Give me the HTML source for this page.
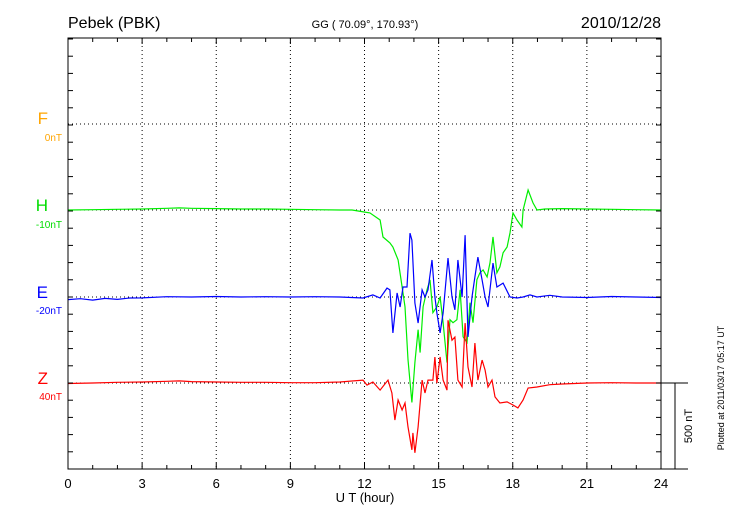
<!DOCTYPE html>
<html><head><meta charset="utf-8"><style>
body{margin:0;background:#fff}
svg{display:block;font-family:"Liberation Sans",sans-serif}
</style></head><body>
<svg id="c" width="730" height="520" viewBox="0 0 730 520">
<text x="68" y="28" font-size="16">Pebek (PBK)</text>
<text x="365" y="28" font-size="11" text-anchor="middle">GG ( 70.09°, 170.93°)</text>
<text x="661" y="28" font-size="16" text-anchor="end">2010/12/28</text>
<g id="grid"></g>
<g id="series"></g>
<rect x="68" y="38" width="593" height="431" fill="none" stroke="#000" stroke-width="1"/>
<g id="ticks"></g>
<text x="48" y="124" font-size="17" fill="#FFA500" text-anchor="end">F</text>
<text x="62" y="141" font-size="10" fill="#FFA500" text-anchor="end">0nT</text>
<text x="48" y="211" font-size="17" fill="#00dd00" text-anchor="end">H</text>
<text x="62" y="228" font-size="10" fill="#00dd00" text-anchor="end">-10nT</text>
<text x="48" y="298" font-size="17" fill="#0000ff" text-anchor="end">E</text>
<text x="62" y="314" font-size="10" fill="#0000ff" text-anchor="end">-20nT</text>
<text x="48" y="384" font-size="17" fill="#ff0000" text-anchor="end">Z</text>
<text x="62" y="400" font-size="10" fill="#ff0000" text-anchor="end">40nT</text>
<text x="365" y="502" font-size="13" text-anchor="middle">U T (hour)</text>
<line x1="661" y1="383" x2="688" y2="383" stroke="#000"/>
<line x1="661" y1="469" x2="688" y2="469" stroke="#000"/>
<line x1="675" y1="383" x2="675" y2="469" stroke="#000"/>
<text transform="translate(692,426) rotate(-90)" font-size="11" text-anchor="middle">500 nT</text>
<text transform="translate(724,388) rotate(-90)" font-size="9" text-anchor="middle">Plotted at 2011/03/17 05:17 UT</text>
</svg>
<script>
const xTicks=[0,3,6,9,12,15,18,21,24];
const hTime=[0,1,2,3,4,4.5,5,6,7,8,9,10,11,11.5,12.02,12.22,12.63,12.75,13.03,13.15,13.23,13.36,13.52,13.64,13.76,13.92,14.04,14.17,14.25,14.37,14.53,14.65,14.77,14.93,15.06,15.18,15.34,15.46,15.58,15.74,15.87,15.99,16.15,16.27,16.39,16.55,16.67,16.8,16.96,17.08,17.2,17.36,17.48,17.61,17.77,17.89,18.01,18.17,18.37,18.42,18.62,18.82,18.98,19.3,20,21,22,23,24];
const hVal=[0,2,4,6,10,12,10,8,6,6,4,2,0,0,-12,-17,-58,-157,-191,-215,-244,-290,-447,-563,-870,-1119,-887,-696,-829,-563,-464,-406,-597,-563,-505,-655,-887,-638,-655,-638,-464,-737,-771,-539,-655,-406,-365,-348,-389,-307,-157,-365,-331,-249,-215,-133,-17,-58,-99,0,116,41,0,6,8,6,4,2,0];
const eTime=[0,0.5,1,1.5,2,2.5,3,4,5,6,7,8,9,10,11,11.94,12.34,12.63,12.91,13.03,13.15,13.32,13.44,13.56,13.72,13.84,13.92,14.04,14.17,14.33,14.45,14.57,14.73,14.85,14.93,15.06,15.18,15.38,15.54,15.66,15.78,15.95,16.07,16.19,16.35,16.47,16.59,16.76,16.88,17.0,17.2,17.36,17.61,17.89,18.17,18.42,18.7,18.98,19.5,20,21,22,23,24];
const eVal=[-15,-10,-18,-8,-14,-6,-5,2,0,3,0,2,0,2,0,-6,12,-6,52,41,-209,23,-58,58,58,371,331,-35,-151,41,0,41,215,0,-93,-209,-93,226,0,-75,215,0,360,-232,0,116,232,99,0,-58,197,58,81,0,-6,0,12,0,10,0,-3,3,0,-3];
const zTime=[0,1,2,3,4,4.5,5,6,7,8,9,10,11,11.94,12.1,12.34,12.63,12.95,13.11,13.23,13.36,13.52,13.64,13.76,13.92,13.96,14.04,14.17,14.33,14.45,14.57,14.77,14.85,14.93,15.06,15.18,15.34,15.38,15.54,15.66,15.78,15.95,16.07,16.19,16.35,16.47,16.59,16.76,16.88,17.0,17.16,17.28,17.48,17.77,18.01,18.21,18.42,18.62,18.98,19.5,20,21,22,23,24];
const zVal=[-3,0,4,6,10,12,8,6,4,4,2,2,6,17,-12,6,-41,17,-58,-215,-99,-157,-116,-255,-389,-290,-406,-255,17,-58,17,17,151,0,151,17,-41,365,249,267,17,-23,348,93,-23,232,17,133,75,-23,17,-81,-116,-110,-128,-145,-99,-29,-23,-10,-6,0,2,0,0];
const X0=68,X1=661,PX=(X1-X0)/24,NT=86/500;
const xs=h=>X0+h*PX;
const ys=(base,v)=>base-v*NT;
const NS='http://www.w3.org/2000/svg';
function mk(tag,attrs,parent){const e=document.createElementNS(NS,tag);for(const k in attrs)e.setAttribute(k,attrs[k]);parent.appendChild(e);return e;}
const grid=document.getElementById('grid'),ticks=document.getElementById('ticks'),ser=document.getElementById('series');
[124,210,297,383].forEach(y=>{const l=mk('line',{x1:X0,x2:X1,y1:y,y2:y,stroke:'#000','stroke-dasharray':'1,3','stroke-width':1},grid);

});
xTicks.forEach(h=>{const x=xs(h);
if(h>0&&h<24){const l=mk('line',{x1:x,x2:x,y1:38,y2:469,stroke:'#000','stroke-dasharray':'1,3'},grid);

}
const t=mk('text',{x:x,y:488,'font-size':13,'text-anchor':'middle'},ticks);t.textContent=h;

});
for(let h=0;h<=24;h++){const x=xs(h),len=h%3===0?6:4;
const a=mk('line',{x1:x,x2:x,y1:38,y2:38+len,stroke:'#000'},ticks);


const b=mk('line',{x1:x,x2:x,y1:469,y2:469-len,stroke:'#000'},ticks);

}
for(let y=469;y>=38;y-=17.2){
const a=mk('line',{x1:X0,x2:X0+5,y1:y,y2:y,stroke:'#000'},ticks);


const b=mk('line',{x1:X1-5,x2:X1,y1:y,y2:y,stroke:'#000'},ticks);

}
function line(t,v,base,color,name){const d=t.map((h,i)=>(i?'L':'M')+xs(h).toFixed(1)+','+ys(base,v[i]).toFixed(1)).join('');
const p=mk('path',{d:d,fill:'none',stroke:color,'stroke-width':1.2},ser);

}
line(hTime,hVal,210,'#00ee00','h-series');
line(eTime,eVal,297,'#0000ff','e-series');
line(zTime,zVal,383,'#ff0000','z-series');
</script>
</body></html>
